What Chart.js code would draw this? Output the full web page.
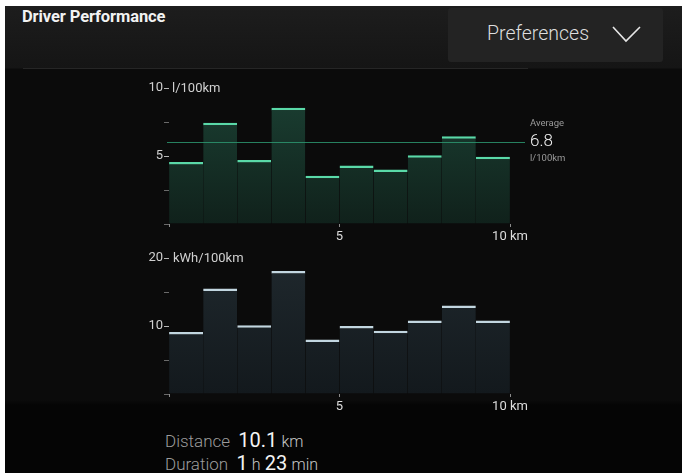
<!DOCTYPE html>
<html>
<head>
<meta charset="utf-8">
<script src="https://cdn.jsdelivr.net/npm/chart.js@4"></script>
<style>
  html, body { margin: 0; padding: 0; background: #fff; }
  body { width: 682px; height: 473px; overflow: hidden; position: relative; font-family: Roboto, "Liberation Sans", sans-serif; }
  #screen { position: absolute; left: 5px; top: 6px; width: 677px; height: 467px; overflow: hidden;
            background: linear-gradient(#1d1d1d 0px, #151515 62px, #0b0b0b 63px, #0b0b0b 394px, #050505 399px); }
  #rule { position: absolute; left: 18px; top: 62px; width: 505px; height: 1px; background: #262626; }
  #title { position: absolute; left: 17px; top: 1px; color: #f2f2f2; font-weight: bold; font-size: 16.5px; letter-spacing: -0.1px; }
  #prefs { position: absolute; left: 443px; top: 2px; width: 215px; height: 54px; background: #232323; border-radius: 3px; }
  #prefs span { position: absolute; left: 39px; top: 14px; color: #dedede; font-size: 19.5px; font-weight: 300; }
  #prefs svg { position: absolute; left: 164px; top: 17px; }
  canvas { position: absolute; }
  .unit { position: absolute; color: #d0d0d0; font-size: 13px; }
  .foot { position: absolute; left: 160px; color: #9c9c9c; font-size: 17px; font-weight: 300; white-space: nowrap; }
  .foot b { color: #f4f4f4; font-weight: 400; font-size: 20px; }
  .foot i { font-style: normal; color: #c8c8c8; font-size: 16px; }
</style>
</head>
<body>
<div id="screen">
  <div id="title">Driver Performance</div>
  <div id="prefs"><span>Preferences</span>
    <svg width="30" height="18"><polyline points="1,2 14,16 28,2" fill="none" stroke="#e6e6e6" stroke-width="1.6"/></svg>
  </div>
  <div id="rule"></div>
  <canvas id="fuel" width="500" height="180" style="left:89px;top:64px"></canvas>
  <canvas id="elec" width="500" height="180" style="left:89px;top:234px"></canvas>
  <div class="unit" style="left:167px;top:74px">l/100km</div>
  <div class="unit" style="left:168px;top:244px">kWh/100km</div>
  <div class="foot" style="top:422px">Distance&nbsp; <b>10.1</b> <i>km</i></div>
  <div class="foot" style="top:445px">Duration&nbsp; <b>1</b> <i>h</i> <b>23</b> <i>min</i></div>
</div>
<script>
// each bar covers one km; value is the segment midpoint
const segmentKm = [0.5, 1.5, 2.5, 3.5, 4.5, 5.5, 6.5, 7.5, 8.5, 9.5];
const fuelValues = [4.55, 7.45, 4.7, 8.55, 3.55, 4.3, 4.0, 5.05, 6.45, 4.95];
const elecValues = [9.1, 15.5, 10.1, 18.1, 8.0, 10.0, 9.3, 10.8, 13.0, 10.8];
const kmMax = 10;
const kmStep = 5;
const fuelMax = 10;
const elecMax = 20;
const fuelMajor = [5, 10];
const elecMajor = [10, 20];
const avgLineValue = 6.05;
const avgLabel = ['Average', '6.8', 'l/100km'];

function gradientFill(top, bottom) {
    return (context) => {
        let { ctx, chartArea } = context.chart;
        if (!chartArea) return top;
        let g = ctx.createLinearGradient(0, chartArea.top, 0, chartArea.bottom);
        g.addColorStop(0, top);
        g.addColorStop(1, bottom);
        return g;
    };
}

// average line + label, only on the fuel chart
const averagePlugin = {
    id: 'average',
    afterDatasetsDraw(chart) {
        if (chart.canvas.id !== 'fuel') return;
        let ctx = chart.ctx;
        let y = Math.round(chart.scales.y.getPixelForValue(avgLineValue)) + 0.5;
        ctx.save();
        ctx.strokeStyle = 'rgba(45,150,112,0.85)';
        ctx.lineWidth = 1;
        ctx.beginPath();
        ctx.moveTo(chart.chartArea.left - 2, y);
        ctx.lineTo(chart.chartArea.right + 15, y);
        ctx.stroke();
        let x = chart.chartArea.right + 20;
        ctx.textBaseline = 'middle';
        ctx.fillStyle = '#9a9a9a';
        ctx.font = '9.5px Roboto';
        ctx.fillText(avgLabel[0], x, y - 19);
        ctx.fillText(avgLabel[2], x, y + 16);
        ctx.fillStyle = '#f2f2f2';
        ctx.font = '300 17px Roboto';
        ctx.fillText(avgLabel[1], x, y - 1);
        ctx.restore();
    }
};

function makeChart(id, values, max, major, fillTop, fillBottom, lineColor) {
    let context = document.getElementById(id).getContext('2d');
    return new Chart(context, {
        type: 'bar',
        data: {
            datasets: [{
                data: segmentKm.map((km, i) => ({ x: km, y: values[i] })),
                backgroundColor: gradientFill(fillTop, fillBottom),
                borderColor: lineColor,
                borderWidth: { top: 2.5, left: 0, right: 0, bottom: 0 },
                borderSkipped: false,
                categoryPercentage: 1,
                barPercentage: 0.995
            }]
        },
        options: {
            responsive: false,
            animation: false,
            events: [],
            layout: { padding: { top: 18, right: 84, left: 0, bottom: 0 } },
            plugins: { legend: { display: false }, tooltip: { enabled: false } },
            scales: {
                x: {
                    type: 'linear', min: 0, max: kmMax, offset: false,
                    afterFit: s => { s.height = 26; },
                    border: { display: false },
                    grid: { offset: false, drawOnChartArea: false, tickLength: 3, color: '#8a8a8a' },
                    ticks: {
                        stepSize: kmStep, padding: 2, maxRotation: 0, color: '#dcdcdc',
                        font: { family: 'Roboto', size: 13 },
                        callback: v => v === 0 ? '' : (v === kmMax ? v + ' km' : String(v))
                    }
                },
                y: {
                    min: 0, max: max,
                    afterFit: s => { s.width = 75; },
                    border: { display: false },
                    grid: {
                        drawOnChartArea: false, tickLength: 5,
                        tickColor: c => major.includes(c.tick.value) ? '#b5b5b5' : '#6a6a6a'
                    },
                    ticks: {
                        stepSize: max / 4, padding: 1, color: '#d0d0d0',
                        font: { family: 'Roboto', size: 13 },
                        callback: v => major.includes(v) ? String(v) : ''
                    }
                }
            }
        },
        plugins: [averagePlugin]
    });
}

makeChart('fuel', fuelValues, fuelMax, fuelMajor, 'rgb(27,64,51)', 'rgb(16,33,27)', '#5ad9a8');
makeChart('elec', elecValues, elecMax, elecMajor, 'rgb(31,40,45)', 'rgb(19,25,29)', '#c2d6e0');
</script>
</body>
</html>
